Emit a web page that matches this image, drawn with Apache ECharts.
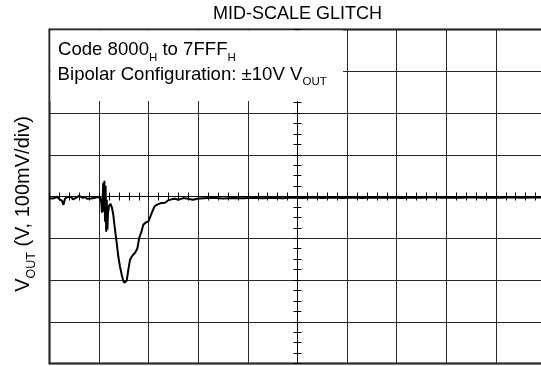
<!DOCTYPE html>
<html>
<head>
<meta charset="utf-8">
<script src="https://cdn.jsdelivr.net/npm/echarts@6/dist/echarts.min.js"></script>
<style>
  html, body { margin: 0; padding: 0; background: #fff; }
  #chart { width: 541px; height: 366px; }
</style>
</head>
<body>
<div id="chart"></div>
<script>
// Scope trace: time in horizontal divisions (0 = screen centre), output in mV (100 mV/div)
const timeDiv = [
  -5.000, -4.970, -4.929, -4.889, -4.849, -4.808, -4.778, -4.748, -4.718, -4.688,
  -4.647, -4.607, -4.567, -4.526, -4.486, -4.446, -4.405, -4.365, -4.325, -4.284,
  -4.244, -4.204, -4.163, -4.123, -4.083, -4.042, -4.002, -3.972, -3.956, -3.942,
  -3.929, -3.917, -3.905, -3.893, -3.881, -3.869, -3.857, -3.845, -3.833, -3.821,
  -3.800, -3.770, -3.740, -3.714, -3.679, -3.645, -3.613, -3.579, -3.544, -3.518,
  -3.492, -3.468, -3.444, -3.411, -3.377, -3.331, -3.276, -3.230, -3.190, -3.141,
  -3.109, -3.060, -3.008, -2.940, -2.887, -2.839, -2.772, -2.671, -2.605, -2.524,
  -2.470, -2.403, -2.302, -2.208, -2.107, -2.026,
  -1.9, -1.7, -1.5, -1.3, -1.1, -0.9, -0.7, -0.5, -0.3, -0.1,
  0.1, 0.3, 0.5, 0.7, 0.9, 1.1, 1.3, 1.5, 1.7, 1.9,
  2.1, 2.3, 2.5, 2.7, 2.9, 3.1, 3.3, 3.5, 3.7, 3.9,
  4.1, 4.3, 4.5, 4.7, 4.9, 5.0
];
const voutMv = [
  -4.3, -3.1, -4.8, -6.7, -0.7, -5.5, -9.1, -10.3, -19.9, -5.5,
  -1.9, -5.0, -0.7, -6.7, -3.1, -1.9, 1.7, 2.9, -3.1, -0.7,
  -5.5, -1.4, -4.6, -0.2, -3.1, -1.2, -5.5, -3.1, -15.1, -39.0,
  -7.9, 32.8, -36.6, 37.6, -60.6, 25.6, -84.5, -7.9, -79.8, -41.4,
  -22.3, -17.5, -27.1, -43.8, -79.8, -110.9, -143.7, -167.7, -187.5, -199.5,
  -206.7, -206.7, -201.9, -175.6, -151.6, -142.0, -134.8, -125.3, -98.9, -82.2,
  -67.8, -62.3, -59.9, -39.8, -24.7, -19.9, -16.3, -15.1, -9.1, -6.2,
  -5.5, -7.9, -3.8, -5.5, -7.9, -5.5,
  -4.2, -3.0, -4.6, -3.4, -4.0, -2.8, -3.9, -3.1, -4.4, -2.7,
  -3.5, -2.4, -3.8, -2.6, -3.3, -2.2, -3.6, -2.5, -3.0, -2.1,
  -3.4, -2.3, -2.9, -1.9, -3.2, -2.4, -2.8, -1.8, -3.1, -2.2,
  -2.7, -1.9, -3.0, -2.1, -2.6, -2.3
];

// Screen: 10 x 8 divisions
const xRange = [-5, 5];
const yRange = [-400, 400];
const xDiv = 1;
const yDiv = 100;

const titleText = 'MID-SCALE GLITCH';
const noteLine1 = '{m|Code 8000}{s|H}{m| to 7FFF}{s|H}';
const noteLine2 = '{m|Bipolar Configuration: \u00B110V V}{s|OUT}';
const yLabel = '{m|V}{s|OUT}{m| (V, 100mV/div)}';

const FONT = '"Liberation Sans", Arial, Helvetica, sans-serif';
const noteRich = {
  m: { fontSize: 18.6, fontFamily: FONT, fill: '#000', verticalAlign: 'top' },
  s: { fontSize: 11.5, fontFamily: FONT, fill: '#000', verticalAlign: 'top', padding: [11, 0, 0, 0] }
};
const axisNameRich = {
  m: { fontSize: 20, fontFamily: FONT, fill: '#000', verticalAlign: 'top' },
  s: { fontSize: 12.5, fontFamily: FONT, fill: '#000', verticalAlign: 'top', padding: [12, 0, 0, 0] }
};

const chart = echarts.init(document.getElementById('chart'), null, { renderer: 'canvas' });

const gridColor = '#2a2a2a';

function centreAxis(inside, showSplit) {
  return {
    type: 'value',
    min: xRange[0], max: xRange[1], interval: xDiv,
    position: 'bottom',
    axisLine: { show: true, onZero: true, onZeroAxisIndex: 0, lineStyle: { color: '#000', width: 1 } },
    axisTick: { show: true, inside: inside, length: 4, lineStyle: { color: '#000', width: 1 } },
    minorTick: { show: true, splitNumber: 5, length: 4, lineStyle: { color: '#000', width: 1 } },
    axisLabel: { show: false },
    splitLine: { show: showSplit, lineStyle: { color: gridColor, width: 1 } },
    minorSplitLine: { show: false }
  };
}

function centreYAxis(inside, showSplit) {
  return {
    type: 'value',
    min: yRange[0], max: yRange[1], interval: yDiv,
    position: 'left',
    axisLine: { show: true, onZero: true, onZeroAxisIndex: 0, lineStyle: { color: '#000', width: 1 } },
    axisTick: { show: true, inside: inside, length: 4, lineStyle: { color: '#000', width: 1 } },
    minorTick: { show: true, splitNumber: 4, length: 4, lineStyle: { color: '#000', width: 1 } },
    axisLabel: { show: false },
    splitLine: { show: showSplit, lineStyle: { color: gridColor, width: 1 } },
    minorSplitLine: { show: false }
  };
}

const option = {
  animation: false,
  backgroundColor: '#fff',
  grid: {
    left: 49.5, top: 29.5, right: -4.5, bottom: 2.5,
    show: true, borderColor: '#000', borderWidth: 2,
    containLabel: false, outerBoundsMode: 'none'
  },
  xAxis: [centreAxis(true, true), centreAxis(false, false)],
  yAxis: [centreYAxis(true, true), centreYAxis(false, false)],
  series: [{
    type: 'line',
    xAxisIndex: 0, yAxisIndex: 0,
    data: timeDiv.map((t, i) => [t, voutMv[i]]),
    showSymbol: false, symbol: 'none',
    lineStyle: { color: '#000', width: 2 },
    z: 3
  }],
  graphic: [
    {
      type: 'rect', z: 10,
      shape: { x: 50.5, y: 30.5, width: 292.5, height: 70.5 },
      style: { fill: '#fff' }
    },
    {
      type: 'text', z: 11, x: 297.5, y: 5,
      style: { text: titleText, font: '18px ' + FONT, fill: '#000', align: 'center', verticalAlign: 'top' }
    },
    {
      type: 'text', z: 11, x: 58, y: 40.5,
      style: { text: noteLine1, rich: noteRich, fill: '#000', align: 'left', verticalAlign: 'top' }
    },
    {
      type: 'text', z: 11, x: 57.6, y: 65,
      style: { text: noteLine2, rich: noteRich, fill: '#000', align: 'left', verticalAlign: 'top' }
    },
    {
      type: 'text', z: 11, x: 26, y: 204, rotation: Math.PI / 2,
      style: { text: yLabel, rich: axisNameRich, fill: '#000', align: 'center', verticalAlign: 'middle' }
    }
  ]
};

chart.setOption(option);
</script>
</body>
</html>
